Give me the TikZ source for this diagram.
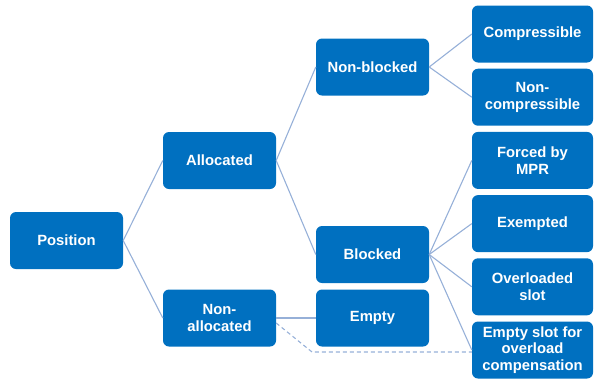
\documentclass[tikz,border=0pt]{standalone}
\usepackage{fontspec}
\setmainfont{Liberation Sans}
\usetikzlibrary{positioning}
\definecolor{boxblue}{RGB}{0,112,192}
\definecolor{linkblue}{RGB}{150,176,216}
\tikzset{
  catbox/.style={fill=boxblue, rounded corners=6pt, text=white,
    font=\bfseries\fontsize{14.8}{16.8}\selectfont, align=center,
    minimum width=113pt, minimum height=57pt, inner sep=2pt},
  leafbox/.style={catbox, minimum width=121pt},
  link/.style={draw=linkblue, line width=1.1pt}
}

\begin{document}
\begin{tikzpicture}[x=1pt,y=-1pt]
	\useasboundingbox (0,0) rectangle (594,381);
	%%%%%%%%%%%%%%%%% boxes %%%%%%%%%%%%%%%%%%%
	\node[catbox] (position) at (66.5,240.5) {Position};
	\node[catbox] (alloc) at (219.5,160.5) {Allocated};
	\node[catbox] (nonalloc) at (219.5,318) {Non-\\allocated};
	\node[catbox] (nonblocked) at (372.5,67) {Non-blocked};
	\node[catbox] (blocked) at (372.5,254.5) {Blocked};
	\node[catbox] (empty) at (372.5,318) {Empty};
	% right column, top to bottom
	\foreach \name/\label [count=\n from 0] in
	{compr/Compressible,noncompr/Non-\\compressible,forced/Forced by\\MPR,
	 exempt/Exempted,overload/Overloaded\\slot,emptyslot/Empty slot for\\overload\\compensation}
	{\node[leafbox] (\name) at (532.5,34+63.2*\n) {\label};}
	
	%%%%%%%%%%%%%%%%% links %%%%%%%%%%%%%%%%%%%%%%%
	\foreach \from/\to in {position/alloc,position/nonalloc,alloc/nonblocked,
	  alloc/blocked,nonblocked/compr,nonblocked/noncompr,nonalloc/empty}
	{\draw[link] (\from.east) -- (\to.west);}
	
	\foreach \to in {forced,exempt,overload,emptyslot}
	{\draw[link] (blocked.east) -- (\to.west);}
	
	% dashed link under Empty
	\coordinate (bend) at (312,352);
	\draw[link, dash pattern=on 4pt off 3pt] ([yshift=-5pt]nonalloc.east) -- (bend) -- (emptyslot.west |- bend);
\end{tikzpicture}
\end{document}
